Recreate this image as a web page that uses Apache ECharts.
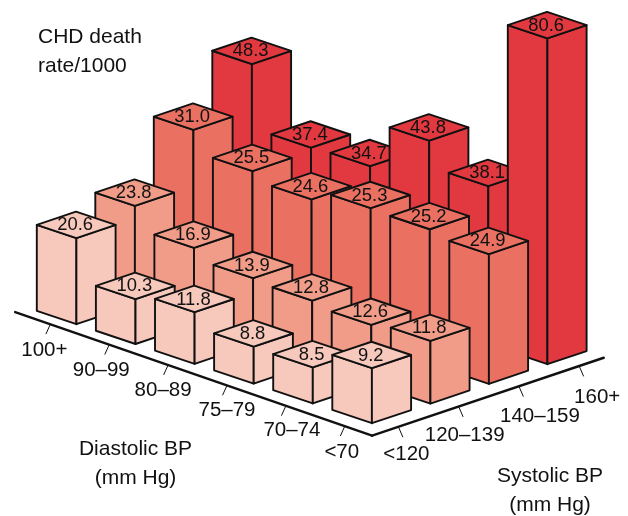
<!DOCTYPE html>
<html>
<head>
<meta charset="utf-8">
<style>html,body{margin:0;padding:0;background:#fff}#c{width:628px;height:516px}</style>
<script src="https://cdn.jsdelivr.net/npm/echarts@6/dist/echarts.min.js"></script>
</head>
<body>
<div id="c"></div>
<script>
// Categories (index 0 is nearest the front corner)
const diastolic = ['<70', '70–74', '75–79', '80–89', '90–99', '100+'];
const systolic = ['<120', '120–139', '140–159', '160+'];

// Printed rates, one array per diastolic category, in systolic order
const rateLt70   = [9.2, 11.8, 24.9, 80.6];
const rate70to74 = [8.5, 12.6, 25.2, 38.1];
const rate75to79 = [8.8, 12.8, 25.3, 43.8];
const rate80to89 = [11.8, 13.9, 24.6, 34.7];
const rate90to99 = [10.3, 16.9, 25.5, 37.4];
const rate100up  = [20.6, 23.8, 31.0, 48.3];

// Bar heights as actually drawn in the picture, in rate units
const drawnLt70   = [13.1, 14.9, 30.9, 77.6];
const drawn70to74 = [8.6, 14.0, 32.1, 37.7];
const drawn75to79 = [8.8, 15.1, 32.4, 43.8];
const drawn80to89 = [12.3, 15.7, 29.8, 33.0];
const drawn90to99 = [10.7, 18.2, 31.8, 32.7];
const drawn100up  = [20.5, 23.5, 36.9, 47.9];

const rates = [rateLt70, rate70to74, rate75to79, rate80to89, rate90to99, rate100up];
const drawn = [drawnLt70, drawn70to74, drawn75to79, drawn80to89, drawn90to99, drawn100up];
const systolicColors = ['#F7C9BD', '#F09C88', '#EA7062', '#E2383F'];

// Oblique projection of (diastolic, systolic, height) onto the hidden value axes
const origin = [371.7, 410], diaStep = [-59.1, -19.8], sysStep = [58.5, -19.67];
const unitHeight = 4.2, half = 0.335;
function project(u, v, h) {
  return [
    origin[0] + diaStep[0] * u + sysStep[0] * v,
    origin[1] + diaStep[1] * u + sysStep[1] * v - unitHeight * h
  ];
}

const INK = '#111111', FONT = '"Liberation Sans", Arial, Helvetica, sans-serif';

// Bars, painted from the back to the front
const barData = [];
diastolic.forEach((_, i) => systolic.forEach((_, j) => {
  barData.push([i, j, drawn[i][j], rates[i][j]]);
}));
barData.sort((p, q) => (q[0] + q[1]) - (p[0] + p[1]));

function renderBar(params, api) {
  const u = api.value(0), v = api.value(1), h = api.value(2), rate = api.value(3);
  const P = (a, b, c) => api.coord(project(a, b, c));
  const tF = P(u - half, v - half, h), tL = P(u + half, v - half, h);
  const tR = P(u - half, v + half, h), tB = P(u + half, v + half, h);
  const bF = P(u - half, v - half, 0), bL = P(u + half, v - half, 0), bR = P(u - half, v + half, 0);
  const style = { fill: systolicColors[v], stroke: INK, lineWidth: 1.9, lineJoin: 'round' };
  const face = pts => ({ type: 'polygon', shape: { points: pts }, style: style });
  const c = P(u, v, h);
  return {
    type: 'group',
    children: [
      face([tL, tF, bF, bL]),
      face([tF, tR, bR, bF]),
      face([tL, tF, tR, tB]),
      { type: 'text', style: {
          text: rate.toFixed(1), x: c[0] - 1, y: c[1] + 0.5, align: 'center', verticalAlign: 'middle',
          fill: INK, font: '18.4px ' + FONT } }
    ]
  };
}

// Floor axes
const cornerAt = -0.65, diaEnd = 5.49, sysEnd = 3.31, diaSkew = 0.102;
const diaTickOffset = -0.18, diaTickStep = 1.013, sysTickOffset = -0.2, sysTickStep = 1.03;
const diaLabelNudge = [[-3, 26], [6, 25], [0, 25], [-5, 25], [-8, 26], [-6, 26]];
const sysLabelNudge = [[8, 28], [6, 29], [21, 30], [18, 31]];

function renderAxes(params, api) {
  const kids = [];
  const line = (a, b, w) => kids.push({ type: 'line',
    shape: { x1: a[0], y1: a[1], x2: b[0], y2: b[1] },
    style: { stroke: INK, lineWidth: w, lineCap: 'round' } });
  const label = (t, p, size) => kids.push({ type: 'text', style: {
    text: t, x: p[0], y: p[1], align: 'center', verticalAlign: 'middle', fill: INK, font: size + 'px ' + FONT } });
  const onDia = u => api.coord(project(u, cornerAt + diaSkew * (u - cornerAt) / (diaEnd - cornerAt), 0));
  const corner = api.coord(project(cornerAt, cornerAt, 0));
  line(corner, onDia(diaEnd), 2.4);
  line(corner, api.coord(project(cornerAt, sysEnd, 0)), 2.4);
  diastolic.forEach((t, i) => {
    const p = onDia(i * diaTickStep + diaTickOffset);
    line(p, [p[0] - 4.3, p[1] + 9.5], 1);
    label(t, [p[0] + diaLabelNudge[i][0], p[1] + diaLabelNudge[i][1]], 20.5);
  });
  systolic.forEach((t, j) => {
    const p = api.coord(project(cornerAt, j * sysTickStep + sysTickOffset, 0));
    line(p, [p[0] + 4.3, p[1] + 10], 1);
    label(t, [p[0] + sysLabelNudge[j][0], p[1] + sysLabelNudge[j][1]], 20.5);
  });
  return { type: 'group', children: kids };
}

const chart = echarts.init(document.getElementById('c'), null, { renderer: 'canvas' });
const textStyle = { fontFamily: FONT, fontSize: 21, fontWeight: 'normal', color: INK, lineHeight: 29.5 };
chart.setOption({
  animation: false,
  backgroundColor: '#fff',
  title: [
    { text: 'CHD death\nrate/1000', left: 38, top: 22, padding: 0, textStyle: textStyle },
    { text: 'Diastolic BP\n(mm Hg)', left: 135.5, top: 434, textAlign: 'center', padding: 0, textStyle: textStyle },
    { text: 'Systolic BP\n(mm Hg)', left: 550, top: 461, textAlign: 'center', padding: 0, textStyle: textStyle }
  ],
  grid: { left: 0, right: 0, top: 0, bottom: 0 },
  xAxis: { type: 'value', min: 0, max: 628, show: false },
  yAxis: { type: 'value', min: 0, max: 516, inverse: true, show: false },
  series: [
    { type: 'custom', renderItem: renderAxes, data: [[0, 0]], clip: false, silent: true, z: 1 },
    { type: 'custom', renderItem: renderBar, data: barData, clip: false, silent: true, z: 2,
      encode: { x: 0, y: 1 } }
  ]
});
</script>
</body>
</html>
